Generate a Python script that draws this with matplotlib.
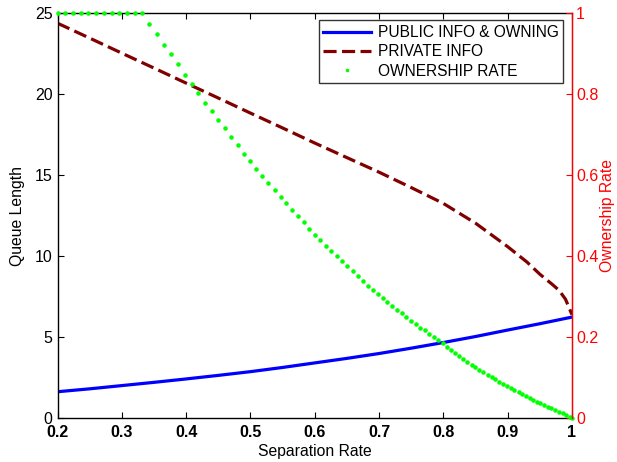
import matplotlib
matplotlib.use('Agg')
from matplotlib import pyplot as plt
import numpy as np

plt.rcParams['font.family'] = ['Liberation Sans', 'DejaVu Sans']

# queue length curves
sep_line = [0.20, 0.25, 0.30, 0.35, 0.40, 0.45, 0.50, 0.55, 0.60, 0.65, 0.70, 0.75, 0.80, 0.85, 0.90, 0.95, 1.00]
public_owning = [1.64, 1.82, 2.02, 2.22, 2.43, 2.65, 2.88, 3.14, 3.42, 3.70, 4.00, 4.33, 4.68, 5.05, 5.45, 5.84, 6.25]

sep_private = [0.20, 0.25, 0.30, 0.35, 0.40, 0.45, 0.50, 0.55, 0.60, 0.65, 0.70, 0.75, 0.80,
               0.85, 0.90, 0.93, 0.95, 0.97, 0.98, 0.99, 1.00]
private_info = [24.40, 23.48, 22.55, 21.63, 20.70, 19.78, 18.85, 17.93, 17.00, 16.10, 15.20, 14.25, 13.27,
                12.05, 10.60, 9.65, 8.90, 8.25, 7.90, 7.35, 6.40]

# ownership rate (right axis), one entry per plotted dot
sep_own = [0.200, 0.212, 0.224, 0.236, 0.248, 0.260, 0.272, 0.284, 0.296, 0.308, 0.320, 0.332,
           0.343, 0.354, 0.366, 0.376, 0.387, 0.398, 0.409, 0.419, 0.430, 0.440, 0.450, 0.460,
           0.470, 0.480, 0.490, 0.500, 0.509, 0.518, 0.528, 0.538, 0.547, 0.556, 0.565, 0.574,
           0.583, 0.591, 0.600, 0.608, 0.617, 0.625, 0.634, 0.643, 0.650, 0.659, 0.667, 0.675,
           0.683, 0.690, 0.698, 0.706, 0.713, 0.720, 0.728, 0.735, 0.742, 0.749, 0.757, 0.763,
           0.771, 0.777, 0.785, 0.792, 0.799, 0.805, 0.812, 0.818, 0.824, 0.831, 0.837, 0.844,
           0.850, 0.856, 0.862, 0.869, 0.875, 0.881, 0.887, 0.893, 0.899, 0.905, 0.910, 0.917,
           0.922, 0.928, 0.934, 0.940, 0.946, 0.951, 0.957, 0.963, 0.968, 0.974, 0.980, 0.986,
           0.991, 0.997, 1.000]
ownership = [1.0, 1.0, 1.0, 1.0, 1.0, 1.0, 1.0, 1.0, 1.0, 1.0, 1.0, 1.0,
             0.975, 0.949, 0.923, 0.899, 0.874, 0.849, 0.826, 0.803, 0.780, 0.758, 0.737, 0.716,
             0.695, 0.674, 0.654, 0.636, 0.617, 0.599, 0.581, 0.564, 0.547, 0.531, 0.514, 0.499,
             0.484, 0.468, 0.454, 0.440, 0.426, 0.413, 0.400, 0.388, 0.375, 0.363, 0.351, 0.340,
             0.328, 0.318, 0.308, 0.298, 0.288, 0.277, 0.268, 0.259, 0.249, 0.240, 0.232, 0.223,
             0.217, 0.208, 0.201, 0.193, 0.185, 0.177, 0.169, 0.161, 0.154, 0.146, 0.140, 0.132,
             0.126, 0.119, 0.114, 0.108, 0.102, 0.096, 0.090, 0.085, 0.080, 0.074, 0.069, 0.064,
             0.060, 0.055, 0.050, 0.046, 0.041, 0.037, 0.033, 0.029, 0.025, 0.020, 0.016, 0.012,
             0.008, 0.004, 0.000]

xticks = [0.2, 0.3, 0.4, 0.5, 0.6, 0.7, 0.8, 0.9, 1.0]
xticklabels = ['0.2', '0.3', '0.4', '0.5', '0.6', '0.7', '0.8', '0.9', '1']
yticks = [0, 5, 10, 15, 20, 25]
rticks = [0, 0.2, 0.4, 0.6, 0.8, 1.0]
rticklabels = ['0', '0.2', '0.4', '0.6', '0.8', '1']

fig = plt.figure(figsize=(6.17, 4.62), dpi=100)
ax = fig.add_axes([0.0932, 0.0946, 0.8338, 0.8762])
ax2 = ax.twinx()

l1, = ax.plot(sep_line, public_owning, color='#0000ff', lw=2.3, label='PUBLIC INFO & OWNING')
l2, = ax.plot(sep_private, private_info, color='#800000', lw=2.3, ls=(0, (4.1, 1.7)),
              label='PRIVATE INFO')
l3, = ax2.plot(sep_own, ownership, ls='none', marker='.', ms=4.5, color='#00ff00',
               clip_on=False, label='OWNERSHIP RATE')

ax.set_xlim(0.2, 1.0)
ax.set_ylim(0, 25)
ax2.set_ylim(0, 1)

ax.set_xticks(xticks)
ax.set_xticklabels(xticklabels, fontweight='bold', fontsize=11.5)
ax.set_yticks(yticks)
ax.set_yticklabels([str(t) for t in yticks], fontsize=11.5)
ax.tick_params(direction='in', top=True, right=False, length=4, width=0.8)
ax.tick_params(axis='x', pad=5)

ax2.set_yticks(rticks)
ax2.set_yticklabels(rticklabels, fontsize=11.5, color='red')
ax2.tick_params(axis='y', direction='in', colors='red', length=4, width=0.8, pad=3)
ax2.spines['right'].set_color('red')
ax2.spines['right'].set_linewidth(1.0)

for s in ['left', 'top', 'bottom']:
    ax.spines[s].set_linewidth(1.0)
ax2.spines['left'].set_visible(False)
ax2.spines['top'].set_visible(False)
ax2.spines['bottom'].set_visible(False)

ax.set_xlabel('Separation Rate', fontsize=11.3, labelpad=3)
ax.set_ylabel('Queue Length', fontsize=11.3, labelpad=7)
ax2.set_ylabel('Ownership Rate', fontsize=11.3, color='red', labelpad=1)

leg = ax2.legend([l1, l2, l3], [l1.get_label(), l2.get_label(), l3.get_label()],
                 loc='upper right', bbox_to_anchor=(0.983, 0.983), fontsize=11.2,
                 frameon=True, fancybox=False, edgecolor='black', handlelength=3.1,
                 borderpad=0.3, labelspacing=0.28, handletextpad=0.4, borderaxespad=0,
                 markerscale=0.7)
leg.get_frame().set_linewidth(1.0)

plt.savefig('out.png', dpi=100)
